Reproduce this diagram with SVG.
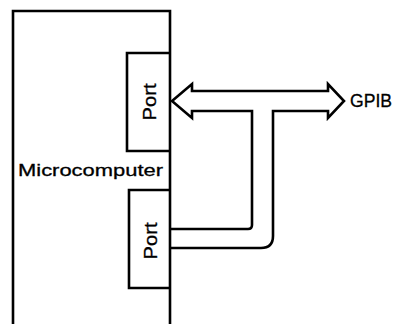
<svg xmlns="http://www.w3.org/2000/svg" width="396" height="324" viewBox="0 0 396 324">
<style>
.ln{fill:none;stroke:#000;stroke-width:2.6;stroke-linejoin:miter}
.t{font-family:"Liberation Sans",Arial,sans-serif;fill:#000;stroke:#000;stroke-width:0.3}
</style>
<rect width="396" height="324" fill="#fff"/>
<g id="microcomputer">
<path class="ln" d="M13,330 L13,11 L170,11 L170,330"/>
<text class="t" x="18" y="176" font-size="17" textLength="145" lengthAdjust="spacingAndGlyphs">Microcomputer</text>
</g>
<g id="port1">
<path class="ln" d="M170,53 L127,53 L127,151 L170,151"/>
<text class="t" font-size="19" text-anchor="middle" textLength="37" lengthAdjust="spacingAndGlyphs" transform="translate(156,102) rotate(-90)">Port</text>
</g>
<g id="port2">
<path class="ln" d="M170,190 L129,190 L129,288 L170,288"/>
<text class="t" font-size="19" text-anchor="middle" textLength="37" lengthAdjust="spacingAndGlyphs" transform="translate(157,241) rotate(-90)">Port</text>
</g>
<g id="connectors">
<path class="ln" d="M170,229 L248,229 Q252,229 252,225 L252,111 L192,111 L192,118 L172,101 L192,84 L192,91 L328,91 L328,84 L344,101 L328,118 L328,111 L273,111 L273,236 Q273,248 261,248 L170,248"/>
</g>
<g id="gpib">
<text class="t" x="350" y="107" font-size="18" textLength="42" lengthAdjust="spacingAndGlyphs">GPIB</text>
</g>
</svg>
